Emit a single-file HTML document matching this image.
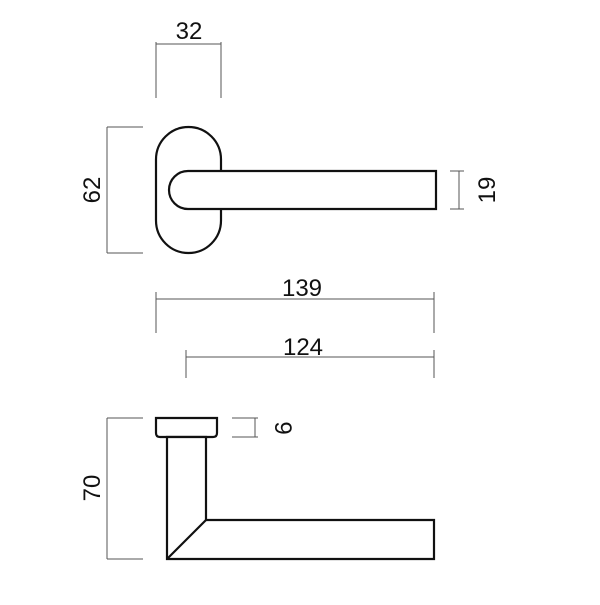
<!DOCTYPE html>
<html><head><style>body{margin:0;background:#fff}</style></head><body>
<svg width="600" height="600" viewBox="0 0 600 600" xmlns="http://www.w3.org/2000/svg" font-family="Liberation Sans, sans-serif" font-size="24" fill="none">
<g stroke="#555" stroke-width="1">
<line x1="156" y1="42" x2="156" y2="98"/><line x1="221" y1="42" x2="221" y2="98"/><line x1="156" y1="44" x2="221" y2="44"/>
<line x1="107" y1="127" x2="107" y2="253"/><line x1="107" y1="127" x2="143" y2="127"/><line x1="107" y1="253" x2="143" y2="253"/>
<line x1="459" y1="171" x2="459" y2="209"/><line x1="450" y1="171" x2="464" y2="171"/><line x1="450" y1="209" x2="464" y2="209"/>
<line x1="156" y1="299" x2="434" y2="299"/><line x1="156" y1="292" x2="156" y2="333"/><line x1="434" y1="292" x2="434" y2="333"/>
<line x1="186" y1="357" x2="434" y2="357"/><line x1="186" y1="350" x2="186" y2="378"/><line x1="434" y1="350" x2="434" y2="378"/>
<line x1="107" y1="418" x2="107" y2="559"/><line x1="107" y1="418" x2="143" y2="418"/><line x1="107" y1="559" x2="143" y2="559"/>
<line x1="255" y1="418" x2="255" y2="437"/><line x1="232" y1="418" x2="258" y2="418"/><line x1="232" y1="437" x2="258" y2="437"/>
</g>
<g stroke="#111" stroke-width="2.2" fill="#fff">
<rect x="156" y="127" width="65" height="126" rx="32.5" ry="32.5"/>
<path d="M188 171 H436 V209 H188 A19 19 0 0 1 188 171 Z"/>
<path d="M156 418 H217 V433 Q217 437 213 437 H160 Q156 437 156 433 Z"/>
<path d="M167 437 H206 V520 H434 V559 H167 Z"/>
<line x1="167" y1="559" x2="206" y2="520"/>
</g>
<g fill="#111" text-anchor="middle">
<text x="189" y="39">32</text>
<text x="302" y="296">139</text>
<text x="303" y="355">124</text>
<text transform="translate(100,190) rotate(-90)">62</text>
<text transform="translate(100,488) rotate(-90)">70</text>
<text transform="translate(495,190) rotate(-90)">19</text>
<text transform="translate(275,428) rotate(90)">9</text>
</g>
</svg>
</body></html>
